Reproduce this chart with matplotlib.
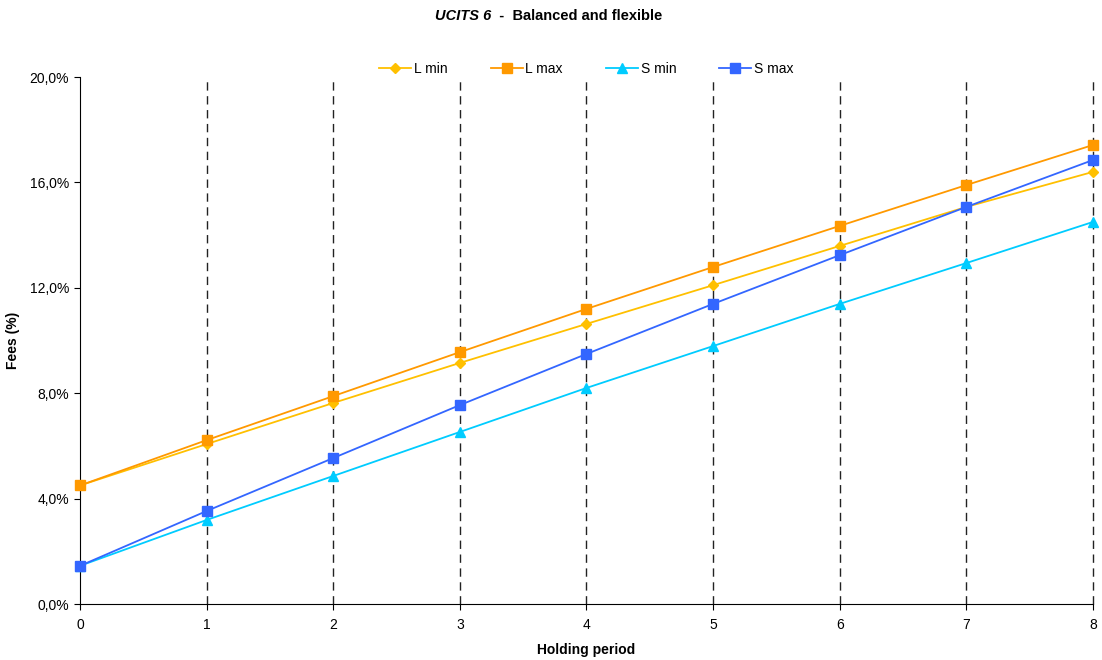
import matplotlib
matplotlib.use("Agg")
import matplotlib.pyplot as plt
from matplotlib.ticker import FuncFormatter

plt.rcParams['font.family'] = ['Liberation Sans', 'DejaVu Sans']

periods = [0, 1, 2, 3, 4, 5, 6, 7, 8]
l_min = [4.5, 6.07, 7.63, 9.15, 10.63, 12.1, 13.59, 15.07, 16.4]
l_max = [4.5, 6.22, 7.89, 9.56, 11.2, 12.79, 14.35, 15.9, 17.42]
s_min = [1.45, 3.19, 4.86, 6.53, 8.2, 9.79, 11.39, 12.94, 14.5]
s_max = [1.45, 3.53, 5.54, 7.55, 9.49, 11.39, 13.24, 15.07, 16.85]
y_ticks = [0, 4, 8, 12, 16, 20]

fig = plt.figure(figsize=(11.02, 6.6), dpi=100)
ax = fig.add_axes([0.0726, 0.0848, 0.9192, 0.7985])

for x in periods[1:]:
    ax.axvline(x, color='#222222', lw=1.0, ls=(0, (6, 4)), zorder=1, clip_on=False)

ax.plot(periods, l_min, color='#FFC000', marker='D', ms=5, lw=1.3, label='L min', zorder=3, clip_on=False)
ax.plot(periods, l_max, color='#FF9900', marker='s', ms=6.5, lw=1.3, label='L max', zorder=3, clip_on=False)
ax.plot(periods, s_min, color='#00CCFF', marker='^', ms=6.5, lw=1.3, label='S min', zorder=3, clip_on=False)
ax.plot(periods, s_max, color='#3366FF', marker='s', ms=6.5, lw=1.3, label='S max', zorder=4, clip_on=False)

ax.set_xlim(0, 8)
ax.set_ylim(0, 20)
ax.set_xticks(periods)
ax.set_yticks(y_ticks)
ax.yaxis.set_major_formatter(FuncFormatter(lambda v, p: f"{v:.1f}%".replace('.', ',')))
ax.tick_params(axis='both', labelsize=10, colors='black', direction='out', length=4)
ax.tick_params(axis='y', pad=4)
ax.tick_params(axis='x', pad=6)
ax.spines['top'].set_visible(False)
ax.spines['right'].set_visible(False)
ax.set_xlabel('Holding period', fontsize=10, fontweight='bold', labelpad=8)
ax.set_ylabel('Fees (%)', fontsize=10, fontweight='bold')
ax.yaxis.set_label_coords(-0.059, 0.5)

leg = ax.legend(loc='center', bbox_to_anchor=(0.5, 1.015), ncol=4, frameon=False,
                fontsize=10, handlelength=2.3, handletextpad=0.2, columnspacing=3.1)

t1 = fig.text(0.446, 0.975, 'UCITS 6', fontsize=10.5, fontweight='bold', fontstyle='italic',
              ha='right', va='center')
t2 = fig.text(0.446, 0.975, '  -  Balanced and flexible', fontsize=10.5, fontweight='bold',
              ha='left', va='center')

fig.savefig('out.png', dpi=100)
